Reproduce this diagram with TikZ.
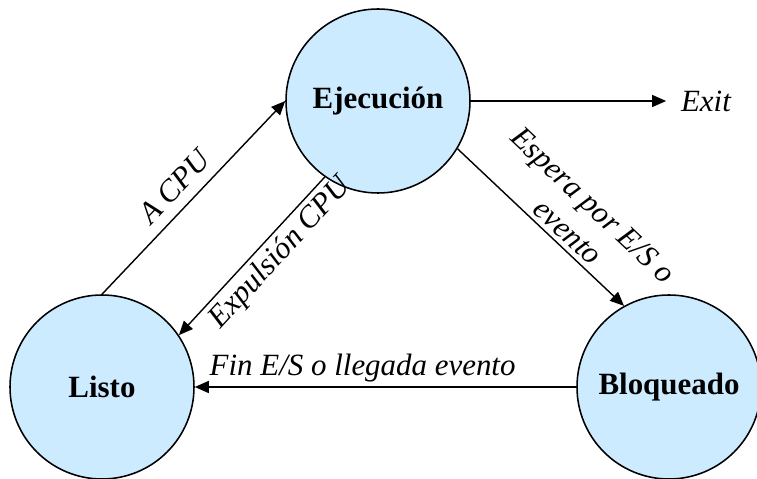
\documentclass[tikz,border=0pt]{standalone}
\usepackage{fontspec}
\setmainfont{Liberation Serif}
\usetikzlibrary{arrows.meta}
\definecolor{azul}{RGB}{204,235,255}
\tikzset{
 estado/.style={circle, draw, line width=1.1pt, fill=azul, minimum size=4.6cm, inner sep=0pt, font=\fontsize{22}{26}\selectfont\bfseries},
 etiqueta/.style={font=\fontsize{22}{26}\selectfont\itshape},
 flecha/.style={line width=1pt, -{Triangle[length=0.35cm,width=0.3cm]}}
}
\begin{document}
\begin{tikzpicture}
 \useasboundingbox (0,0) rectangle (18.925,11.975);
 \node[estado] (Ejecucion) at (9.45,9.45) {Ejecución};
 \node[estado] (Listo) at (2.55,2.3) {Listo};
 \node[estado] (Bloqueado) at (16.725,2.3) {Bloqueado};
 \node[etiqueta] (exit) at (17.65,9.45) {Exit};
 \draw[flecha] (Listo.north) -- node[etiqueta, sloped, above=0.15cm, pos=0.48] {A CPU} (Ejecucion.west);
 \draw[flecha] (Ejecucion.235) -- node[etiqueta, sloped, below, pos=0.4] {Expulsión CPU} (Listo.34);
 \draw[flecha] (Ejecucion.-31) -- node[etiqueta, sloped, above, pos=0.6, align=center] {Espera por E/S o\\evento} (Bloqueado.119);
 \draw[flecha, shorten >=0.25cm] (Ejecucion.east) -- (exit.west);
 \draw[flecha] (Bloqueado.west) -- node[etiqueta, above, pos=0.56] {Fin E/S o llegada evento} (Listo.east);
\end{tikzpicture}
\end{document}
